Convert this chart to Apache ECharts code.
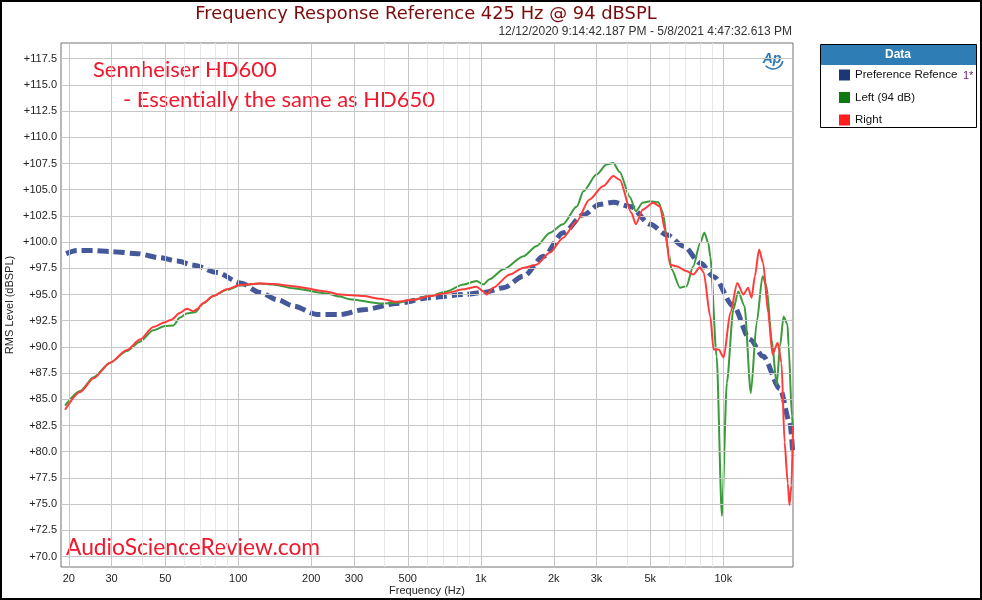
<!DOCTYPE html>
<html><head><meta charset="utf-8">
<script src="https://cdn.jsdelivr.net/npm/echarts@6/dist/echarts.min.js"></script>
<style>html,body{margin:0;padding:0;background:#fff}#c{width:982px;height:600px}</style>
</head><body><div id="c"></div>
<script>
// ---- tick labels / grid positions ----
const xTickValues = [20, 30, 50, 100, 200, 300, 500, 1000, 2000, 3000, 5000, 10000];
const xMinorValues = [40, 60, 70, 80, 90, 400, 600, 700, 800, 900, 4000, 6000, 7000, 8000, 9000];
const yTickValues = [70, 72.5, 75, 77.5, 80, 82.5, 85, 87.5, 90, 92.5, 95, 97.5, 100, 102.5, 105, 107.5, 110, 112.5, 115, 117.5];

// ---- series names ----
const seriesNames = ['Preference Refence', 'Left (94 dB)', 'Right'];

// ---- Preference reference (Hz, dBSPL) ----
const refFreq = [19.5, 21.6, 25, 29.7, 38.3, 47.7, 56, 65.4, 81.7, 102, 123, 145, 169, 211, 263, 328, 451, 620, 851, 1025, 1240, 1500, 1815, 2190, 2650, 3090, 3530, 4135, 4995, 5850, 6870, 8050, 9140, 11000, 12900, 14600, 17150, 18800, 19390];
const refLevel = [98.9, 99.2, 99.2, 99.1, 98.9, 98.5, 98.2, 97.8, 97.1, 96.1, 95.2, 94.5, 93.9, 93.1, 93.1, 93.55, 94.15, 94.7, 95.0, 95.2, 95.65, 96.75, 98.65, 100.9, 102.6, 103.6, 103.8, 103.4, 101.7, 100.7, 99.6, 98.0, 96.7, 93.9, 90.7, 89.1, 86.0, 82.8, 79.6];

// ---- Left (94 dB) ----
const leftFreq = [19.3, 22.3, 25.3, 29.6, 34.7, 39.3, 44.6, 49.9, 54, 57.5, 61.3, 66.3, 71.7, 78.8, 89.6, 101.6, 122.8, 139, 168, 231, 262, 288, 384, 450, 526, 617, 724, 847, 961, 1025, 1087, 1240, 1500, 1695, 1930, 2180, 2490, 2650, 3000, 3300, 3520, 3740, 4120, 4360, 4650, 4990, 5400, 5640, 5920, 6120, 6630, 7050, 7520, 8020, 8360, 8680, 8840, 9390, 9870, 10350, 11000, 11530, 12230, 12990, 13730, 14520, 15090, 15830, 16610, 17150, 17720, 18400, 18600, 19190, 19390];
const leftLevel = [84.4, 85.8, 87.1, 88.5, 89.6, 90.5, 91.6, 92.0, 92.05, 92.8, 93.2, 93.3, 94.15, 94.85, 95.45, 95.85, 96.05, 95.95, 95.6, 95.1, 94.8, 94.55, 94.15, 94.2, 94.5, 94.85, 95.3, 95.95, 96.3, 95.95, 96.45, 97.4, 98.65, 99.6, 100.9, 101.7, 103.4, 104.85, 106.45, 107.4, 107.55, 106.7, 104.3, 102.95, 103.75, 103.9, 103.8, 102.8, 99.3, 97.4, 95.65, 95.8, 97.7, 99.9, 100.9, 99.9, 98.6, 89.1, 73.9, 86.6, 93.55, 95.3, 93.9, 85.6, 92.3, 96.75, 95.8, 90.7, 86.4, 90.1, 92.9, 92.15, 90.1, 83.4, 82.1];

// ---- Right ----
const rightFreq = [19.3, 22.3, 25.3, 29.6, 34.7, 39.3, 44.6, 49.9, 53, 57.5, 61.3, 65.2, 67.5, 71.7, 78.8, 89.6, 101.6, 122.8, 139, 168, 231, 262, 328, 384, 450, 526, 617, 724, 847, 961, 1025, 1057, 1125, 1316, 1500, 1695, 1930, 2180, 2490, 2800, 3200, 3520, 3740, 4180, 4360, 4650, 5140, 5480, 5750, 6030, 6410, 7050, 7520, 8020, 8300, 8840, 9120, 9570, 10040, 10690, 11420, 12100, 12660, 13090, 13500, 14050, 14600, 15320, 15960, 16770, 17380, 17900, 18450, 18750, 19100, 19390];
const rightLevel = [84.0, 85.7, 87.0, 88.5, 89.7, 90.7, 91.9, 92.35, 92.6, 93.25, 93.65, 93.4, 93.6, 94.2, 94.85, 95.5, 95.9, 96.05, 96.0, 95.8, 95.3, 95.0, 94.85, 94.6, 94.3, 94.5, 94.85, 95.15, 95.5, 95.75, 95.3, 95.0, 95.65, 96.9, 97.55, 97.85, 99.0, 100.4, 102.0, 104.05, 105.35, 106.3, 105.95, 102.8, 101.7, 103.1, 103.75, 103.4, 101.2, 97.85, 97.7, 97.25, 96.9, 97.6, 97.1, 92.9, 89.75, 89.75, 89.0, 93.25, 96.1, 95.0, 95.65, 94.7, 96.75, 99.3, 98.0, 93.25, 89.3, 90.4, 88.5, 80.9, 77.0, 74.9, 76.8, 82.4];

const zip = (a, b) => a.map((v, i) => [v, b[i]]);
const FONT = '"Liberation Sans", Arial, sans-serif';
const TITLEFONT = '"DejaVu Sans", Verdana, sans-serif';
const ANNOT = 'Lato, "Open Sans", sans-serif';

const gridLines = [];
xTickValues.forEach(v => gridLines.push({ xAxis: v, lineStyle: { color: '#c6c6c6', width: 1, type: 'solid' } }));
xMinorValues.forEach(v => gridLines.push({ xAxis: v, lineStyle: { color: '#e8e8e8', width: 1, type: 'solid' } }));
yTickValues.forEach(v => gridLines.push({ yAxis: v, lineStyle: { color: '#c6c6c6', width: 1, type: 'solid' } }));

const chart = echarts.init(document.getElementById('c'), null, { renderer: 'canvas' });
chart.setOption({
  animation: false,
  backgroundColor: '#fff',
  grid: { left: 61, right: 189, top: 43, bottom: 33, show: true, borderColor: '#727272', borderWidth: 1, backgroundColor: 'transparent', containLabel: false, outerBoundsMode: 'none' },
  xAxis: {
    type: 'log', min: 18.57, max: 19390,
    axisLine: { show: false }, axisTick: { show: false }, splitLine: { show: false }, minorSplitLine: { show: false },
    axisLabel: { customValues: xTickValues, formatter: v => (v >= 1000 ? (v / 1000) + 'k' : String(v)), fontSize: 11, color: '#222', margin: 6, fontFamily: FONT },
    name: 'Frequency (Hz)', nameLocation: 'middle', nameGap: 18, nameMoveOverlap: false,
    nameTextStyle: { fontSize: 11, color: '#222', fontFamily: FONT }
  },
  yAxis: {
    type: 'value', min: 69, max: 119,
    axisLine: { show: false }, axisTick: { show: false }, splitLine: { show: false },
    axisLabel: { customValues: yTickValues, formatter: v => '+' + v.toFixed(1), fontSize: 11, color: '#222', margin: 4, fontFamily: FONT },
    name: 'RMS Level (dBSPL)', nameLocation: 'middle', nameGap: 45.5, nameRotate: 90, nameMoveOverlap: false,
    nameTextStyle: { fontSize: 11, color: '#222', fontFamily: FONT }
  },
  legend: {
    orient: 'vertical', left: 834, top: 64, itemWidth: 11, itemHeight: 11, itemGap: 10.5, icon: 'rect',
    selectedMode: false, z: 20,
    textStyle: { fontSize: 11.5, color: '#111', fontFamily: FONT },
    itemStyle: { borderWidth: 0 },
    data: [
      { name: seriesNames[0], itemStyle: { color: '#1b3775' } },
      { name: seriesNames[1], itemStyle: { color: '#0d7a12' } },
      { name: seriesNames[2], itemStyle: { color: '#ff1f1f' } }
    ]
  },
  graphic: [
    { type: 'rect', z: 0, shape: { x: 1, y: 1, width: 980, height: 598 }, style: { fill: 'none', stroke: '#000', lineWidth: 2 } },
    { type: 'text', z: 5, style: { x: 426, y: 14, text: 'Frequency Response Reference 425 Hz @ 94 dBSPL', textAlign: 'center', textVerticalAlign: 'middle', fill: '#7b0a0a', font: '17.9px ' + TITLEFONT } },
    { type: 'text', z: 5, style: { x: 792, y: 32, text: '12/12/2020 9:14:42.187 PM - 5/8/2021 4:47:32.613 PM', textAlign: 'right', textVerticalAlign: 'middle', fill: '#333', font: '12px ' + FONT } },
    { type: 'rect', z: 1, shape: { x: 820.5, y: 44.5, width: 156, height: 83 }, style: { fill: '#fff', stroke: '#000', lineWidth: 1 } },
    { type: 'rect', z: 2, shape: { x: 821, y: 45, width: 155, height: 20 }, style: { fill: '#2e7db5' } },
    { type: 'text', z: 3, style: { x: 898, y: 55, text: 'Data', textAlign: 'center', textVerticalAlign: 'middle', fill: '#fff', font: 'bold 12px ' + FONT } },
    { type: 'text', z: 3, style: { x: 963, y: 76, text: '1*', textAlign: 'left', textVerticalAlign: 'middle', fill: '#6a1a6a', font: '11px ' + FONT } },
    { type: 'text', z: 5, style: { x: 772, y: 59, text: 'Ap', textAlign: 'center', textVerticalAlign: 'middle', fill: '#2a78b8', font: 'italic bold 14px ' + FONT } },
    { type: 'arc', z: 5, shape: { cx: 773, cy: 59, r: 10, startAngle: 0.2, endAngle: 2.4 }, style: { stroke: '#2a78b8', lineWidth: 1.5, fill: 'none' } },
    { type: 'text', z: 5, style: { x: 93, y: 70, text: 'Sennheiser HD600', textAlign: 'left', textVerticalAlign: 'middle', fill: '#f0182c', font: '22px ' + ANNOT } },
    { type: 'text', z: 5, style: { x: 123, y: 100, text: '- Essentially the same as HD650', textAlign: 'left', textVerticalAlign: 'middle', fill: '#f0182c', font: '22px ' + ANNOT } },
    { type: 'text', z: 5, style: { x: 66, y: 548, text: 'AudioScienceReview.com', textAlign: 'left', textVerticalAlign: 'middle', fill: '#f0182c', font: '22.8px ' + ANNOT } }
  ],
  series: [
    {
      name: '__grid', type: 'line', data: [], silent: true, z: 1, showSymbol: false,
      markLine: { silent: true, symbol: ['none', 'none'], label: { show: false }, animation: false, emphasis: { disabled: true }, data: gridLines }
    },
    {
      name: seriesNames[0], type: 'line', data: zip(refFreq, refLevel), z: 3, showSymbol: false, smooth: 0.3, smoothMonotone: 'x',
      lineStyle: { color: '#45599a', width: 5, type: [11, 5], cap: 'butt' }, itemStyle: { color: '#1b3775' }
    },
    {
      name: seriesNames[1], type: 'line', data: zip(leftFreq, leftLevel), z: 4, showSymbol: false, smooth: 0.25, smoothMonotone: 'x',
      lineStyle: { color: '#3b9a3b', width: 2 }, itemStyle: { color: '#0d7a12' }
    },
    {
      name: seriesNames[2], type: 'line', data: zip(rightFreq, rightLevel), z: 5, showSymbol: false, smooth: 0.25, smoothMonotone: 'x',
      lineStyle: { color: '#ff3b3b', width: 2 }, itemStyle: { color: '#ff1f1f' }
    }
  ]
});
</script></body></html>
